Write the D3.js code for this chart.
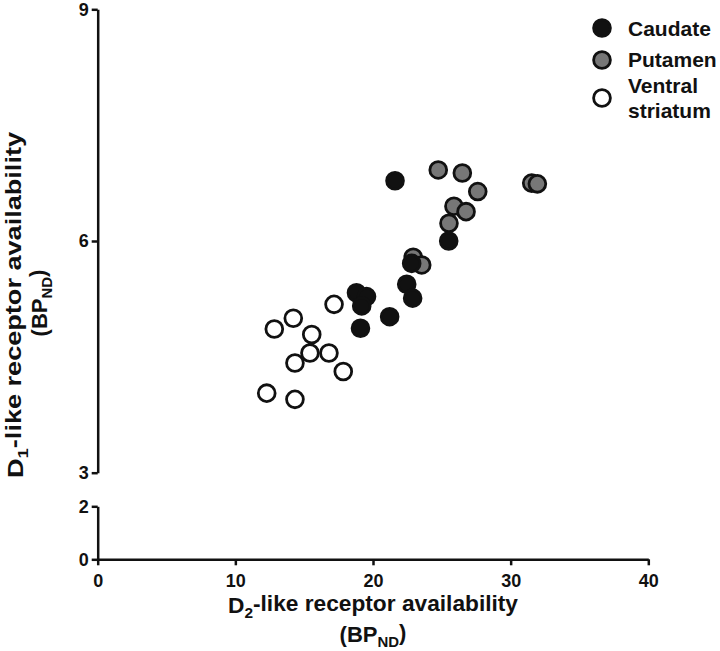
<!DOCTYPE html>
<html>
<head>
<meta charset="utf-8">
<script src="https://cdn.jsdelivr.net/npm/d3@7"></script>
<style>
  body { margin: 0; background: #fff; }
  svg { display: block; font-family: "Liberation Sans", Arial, sans-serif; font-weight: bold; }
  .axis path, .axis line { stroke: #111; stroke-width: 2.5; }
</style>
</head>
<body>
<script>
// ---------------------------------- DATA
var groups = ["Caudate", "Putamen", "Ventral striatum"];

var caudateX = [21.6, 25.5, 22.81, 22.45, 22.88, 18.80, 19.53, 19.18, 21.21, 19.09];
var caudateY = [6.78, 6.00, 5.71, 5.44, 5.26, 5.33, 5.28, 5.16, 5.02, 4.87];

var putamenX = [24.74, 26.49, 27.61, 31.53, 31.94, 25.88, 26.76, 25.52, 22.92, 23.54];
var putamenY = [6.92, 6.88, 6.64, 6.75, 6.74, 6.45, 6.38, 6.23, 5.79, 5.69];

var ventralX = [17.17, 14.21, 12.83, 15.55, 15.42, 16.80, 14.33, 17.84, 12.28, 14.33];
var ventralY = [5.18, 5.00, 4.86, 4.79, 4.55, 4.55, 4.42, 4.31, 4.03, 3.95];

var xTicks = [0, 10, 20, 30, 40];
var yTicksTop = [3, 6, 9];
var yTicksBottom = [0, 2];

// ---------------------------------- SETUP
var width = 720, height = 651;

var svg = d3.select("body").append("svg")
  .attr("width", width)
  .attr("height", height);

var x = d3.scaleLinear().domain([0, 40]).range([97.7, 648.3]);
var yTop = d3.scaleLinear().domain([3, 9]).range([472.7, 9.3]);
var yBottom = d3.scaleLinear().domain([0, 2]).range([559.3, 506.3]);

// ---------------------------------- AXES
function styleAxis(g) {
  g.attr("font-family", "Liberation Sans, Arial, sans-serif")
   .attr("font-size", 18)
   .attr("font-weight", "bold");
  g.selectAll("text").attr("fill", "#111");
}

svg.append("g")
  .attr("class", "axis")
  .attr("transform", "translate(0," + yBottom(0) + ")")
  .call(d3.axisBottom(x).tickValues(xTicks).tickSize(6).tickSizeOuter(0).tickPadding(9).tickFormat(d3.format("d")))
  .call(styleAxis);

svg.append("g")
  .attr("class", "axis")
  .attr("transform", "translate(" + x(0) + ",0)")
  .call(d3.axisLeft(yTop).tickValues(yTicksTop).tickSize(6).tickSizeOuter(0).tickPadding(3).tickFormat(d3.format("d")))
  .call(styleAxis);

svg.append("g")
  .attr("class", "axis")
  .attr("transform", "translate(" + x(0) + ",0)")
  .call(d3.axisLeft(yBottom).tickValues(yTicksBottom).tickSize(6).tickSizeOuter(0).tickPadding(3).tickFormat(d3.format("d")))
  .call(styleAxis);

// ---------------------------------- POINTS
var radius = 8.4;

function drawPoints(xs, ys, fill) {
  var pts = xs.map(function(d, i){ return {x: d, y: ys[i]}; });
  svg.append("g").selectAll("circle")
    .data(pts)
    .enter().append("circle")
      .attr("cx", function(d){ return x(d.x); })
      .attr("cy", function(d){ return yTop(d.y); })
      .attr("r", radius)
      .attr("fill", fill)
      .attr("stroke", "#111")
      .attr("stroke-width", 2.8);
}

drawPoints(putamenX, putamenY, "#777");
drawPoints(caudateX, caudateY, "#111");
drawPoints(ventralX, ventralY, "#fff");

// ---------------------------------- LEGEND
var legendFills = ["#111", "#777", "#fff"];
var legendY = [28, 60, 98];
var legend = svg.append("g");

legend.selectAll("circle")
  .data(groups)
  .enter().append("circle")
    .attr("cx", 602)
    .attr("cy", function(d, i){ return legendY[i]; })
    .attr("r", radius)
    .attr("fill", function(d, i){ return legendFills[i]; })
    .attr("stroke", "#111")
    .attr("stroke-width", 2.8);

legend.append("text").attr("x", 628).attr("y", 36).attr("font-size", 21).attr("fill", "#111").text("Caudate");
legend.append("text").attr("x", 628).attr("y", 67).attr("font-size", 21).attr("fill", "#111").text("Putamen");
legend.append("text").attr("x", 628).attr("y", 93).attr("font-size", 21).attr("fill", "#111").text("Ventral");
legend.append("text").attr("x", 628).attr("y", 118).attr("font-size", 21).attr("fill", "#111").text("striatum");

// ---------------------------------- TITLES
function subTitle(g, main, sub, rest) {
  g.append("tspan").text(main);
  g.append("tspan").attr("font-size", "0.68em").attr("dy", "0.35em").text(sub);
  g.append("tspan").attr("dy", "-0.35em").text(rest);
}

var xt1 = svg.append("text")
  .attr("x", 373).attr("y", 613)
  .attr("text-anchor", "middle").attr("font-size", 22).attr("fill", "#111")
  .attr("textLength", 290).attr("lengthAdjust", "spacingAndGlyphs");
subTitle(xt1, "D", "2", "-like receptor availability");

var xt2 = svg.append("text")
  .attr("x", 373).attr("y", 642)
  .attr("text-anchor", "middle").attr("font-size", 22).attr("fill", "#111");
subTitle(xt2, "(BP", "ND", ")");

var yt1 = svg.append("text")
  .attr("transform", "translate(23,305) rotate(-90)")
  .attr("text-anchor", "middle").attr("font-size", 22).attr("fill", "#111")
  .attr("textLength", 346).attr("lengthAdjust", "spacingAndGlyphs");
subTitle(yt1, "D", "1", "-like receptor availability");

var yt2 = svg.append("text")
  .attr("transform", "translate(47,303) rotate(-90)")
  .attr("text-anchor", "middle").attr("font-size", 22).attr("fill", "#111");
subTitle(yt2, "(BP", "ND", ")");
</script>
</body>
</html>
